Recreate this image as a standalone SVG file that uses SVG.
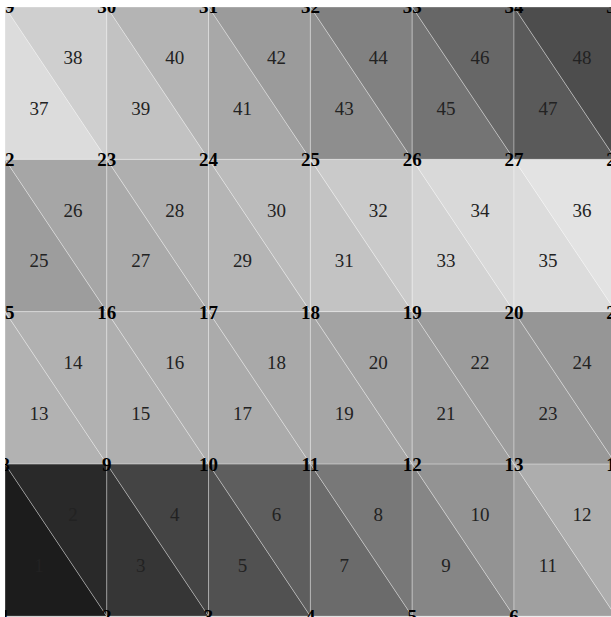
<svg xmlns="http://www.w3.org/2000/svg" width="611" height="617" viewBox="0 0 611 617">
<style>
.t{stroke:#ffffff;stroke-opacity:0.45;stroke-width:0.7;stroke-linejoin:round}
.el{font-family:"Liberation Serif","Times New Roman",serif;font-size:19px;fill:#222;text-anchor:middle}
.nd{font-family:"Liberation Serif","Times New Roman",serif;font-size:19px;font-weight:bold;fill:#000;text-anchor:middle}
</style>
<defs>
<clipPath id="area"><rect x="5" y="7" width="620" height="620"/></clipPath>
</defs>
<rect width="611" height="617" fill="#ffffff"/>
<g clip-path="url(#area)">
<g id="elements">
<g id="e1"><polygon class="t" fill="#1c1c1c" points="5,463.9 5,616.2 106.8,616.2"/><text class="el" x="38.9" y="571.9">1</text></g>
<g id="e2"><polygon class="t" fill="#292929" points="5,463.9 106.8,463.9 106.8,616.2"/><text class="el" x="72.9" y="521.2">2</text></g>
<g id="e3"><polygon class="t" fill="#363636" points="106.8,463.9 106.8,616.2 208.6,616.2"/><text class="el" x="140.7" y="571.9">3</text></g>
<g id="e4"><polygon class="t" fill="#444444" points="106.8,463.9 208.6,463.9 208.6,616.2"/><text class="el" x="174.7" y="521.2">4</text></g>
<g id="e5"><polygon class="t" fill="#515151" points="208.6,463.9 208.6,616.2 310.4,616.2"/><text class="el" x="242.5" y="571.9">5</text></g>
<g id="e6"><polygon class="t" fill="#5e5e5e" points="208.6,463.9 310.4,463.9 310.4,616.2"/><text class="el" x="276.5" y="521.2">6</text></g>
<g id="e7"><polygon class="t" fill="#6b6b6b" points="310.4,463.9 310.4,616.2 412.2,616.2"/><text class="el" x="344.3" y="571.9">7</text></g>
<g id="e8"><polygon class="t" fill="#787878" points="310.4,463.9 412.2,463.9 412.2,616.2"/><text class="el" x="378.3" y="521.2">8</text></g>
<g id="e9"><polygon class="t" fill="#868686" points="412.2,463.9 412.2,616.2 514,616.2"/><text class="el" x="446.1" y="571.9">9</text></g>
<g id="e10"><polygon class="t" fill="#939393" points="412.2,463.9 514,463.9 514,616.2"/><text class="el" x="480.1" y="521.2">10</text></g>
<g id="e11"><polygon class="t" fill="#a0a0a0" points="514,463.9 514,616.2 615.8,616.2"/><text class="el" x="547.9" y="571.9">11</text></g>
<g id="e12"><polygon class="t" fill="#adadad" points="514,463.9 615.8,463.9 615.8,616.2"/><text class="el" x="581.9" y="521.2">12</text></g>

<g id="e13"><polygon class="t" fill="#b2b2b2" points="5,311.6 5,463.9 106.8,463.9"/><text class="el" x="38.9" y="419.6">13</text></g>
<g id="e14"><polygon class="t" fill="#b1b1b1" points="5,311.6 106.8,311.6 106.8,463.9"/><text class="el" x="72.9" y="368.9">14</text></g>
<g id="e15"><polygon class="t" fill="#afafaf" points="106.8,311.6 106.8,463.9 208.6,463.9"/><text class="el" x="140.7" y="419.6">15</text></g>
<g id="e16"><polygon class="t" fill="#aeaeae" points="106.8,311.6 208.6,311.6 208.6,463.9"/><text class="el" x="174.7" y="368.9">16</text></g>
<g id="e17"><polygon class="t" fill="#ababab" points="208.6,311.6 208.6,463.9 310.4,463.9"/><text class="el" x="242.5" y="419.6">17</text></g>
<g id="e18"><polygon class="t" fill="#a9a9a9" points="208.6,311.6 310.4,311.6 310.4,463.9"/><text class="el" x="276.5" y="368.9">18</text></g>
<g id="e19"><polygon class="t" fill="#a6a6a6" points="310.4,311.6 310.4,463.9 412.2,463.9"/><text class="el" x="344.3" y="419.6">19</text></g>
<g id="e20"><polygon class="t" fill="#a3a3a3" points="310.4,311.6 412.2,311.6 412.2,463.9"/><text class="el" x="378.3" y="368.9">20</text></g>
<g id="e21"><polygon class="t" fill="#9f9f9f" points="412.2,311.6 412.2,463.9 514,463.9"/><text class="el" x="446.1" y="419.6">21</text></g>
<g id="e22"><polygon class="t" fill="#9c9c9c" points="412.2,311.6 514,311.6 514,463.9"/><text class="el" x="480.1" y="368.9">22</text></g>
<g id="e23"><polygon class="t" fill="#999999" points="514,311.6 514,463.9 615.8,463.9"/><text class="el" x="547.9" y="419.6">23</text></g>
<g id="e24"><polygon class="t" fill="#969696" points="514,311.6 615.8,311.6 615.8,463.9"/><text class="el" x="581.9" y="368.9">24</text></g>

<g id="e25"><polygon class="t" fill="#9d9d9d" points="5,159.3 5,311.6 106.8,311.6"/><text class="el" x="38.9" y="267.3">25</text></g>
<g id="e26"><polygon class="t" fill="#a6a6a6" points="5,159.3 106.8,159.3 106.8,311.6"/><text class="el" x="72.9" y="216.6">26</text></g>
<g id="e27"><polygon class="t" fill="#aaaaaa" points="106.8,159.3 106.8,311.6 208.6,311.6"/><text class="el" x="140.7" y="267.3">27</text></g>
<g id="e28"><polygon class="t" fill="#afafaf" points="106.8,159.3 208.6,159.3 208.6,311.6"/><text class="el" x="174.7" y="216.6">28</text></g>
<g id="e29"><polygon class="t" fill="#b5b5b5" points="208.6,159.3 208.6,311.6 310.4,311.6"/><text class="el" x="242.5" y="267.3">29</text></g>
<g id="e30"><polygon class="t" fill="#bbbbbb" points="208.6,159.3 310.4,159.3 310.4,311.6"/><text class="el" x="276.5" y="216.6">30</text></g>
<g id="e31"><polygon class="t" fill="#c3c3c3" points="310.4,159.3 310.4,311.6 412.2,311.6"/><text class="el" x="344.3" y="267.3">31</text></g>
<g id="e32"><polygon class="t" fill="#cacaca" points="310.4,159.3 412.2,159.3 412.2,311.6"/><text class="el" x="378.3" y="216.6">32</text></g>
<g id="e33"><polygon class="t" fill="#d3d3d3" points="412.2,159.3 412.2,311.6 514,311.6"/><text class="el" x="446.1" y="267.3">33</text></g>
<g id="e34"><polygon class="t" fill="#d9d9d9" points="412.2,159.3 514,159.3 514,311.6"/><text class="el" x="480.1" y="216.6">34</text></g>
<g id="e35"><polygon class="t" fill="#dcdcdc" points="514,159.3 514,311.6 615.8,311.6"/><text class="el" x="547.9" y="267.3">35</text></g>
<g id="e36"><polygon class="t" fill="#e3e3e3" points="514,159.3 615.8,159.3 615.8,311.6"/><text class="el" x="581.9" y="216.6">36</text></g>

<g id="e37"><polygon class="t" fill="#dcdcdc" points="5,7 5,159.3 106.8,159.3"/><text class="el" x="38.9" y="115">37</text></g>
<g id="e38"><polygon class="t" fill="#cfcfcf" points="5,7 106.8,7 106.8,159.3"/><text class="el" x="72.9" y="64.3">38</text></g>
<g id="e39"><polygon class="t" fill="#c2c2c2" points="106.8,7 106.8,159.3 208.6,159.3"/><text class="el" x="140.7" y="115">39</text></g>
<g id="e40"><polygon class="t" fill="#b4b4b4" points="106.8,7 208.6,7 208.6,159.3"/><text class="el" x="174.7" y="64.3">40</text></g>
<g id="e41"><polygon class="t" fill="#a8a8a8" points="208.6,7 208.6,159.3 310.4,159.3"/><text class="el" x="242.5" y="115">41</text></g>
<g id="e42"><polygon class="t" fill="#9b9b9b" points="208.6,7 310.4,7 310.4,159.3"/><text class="el" x="276.5" y="64.3">42</text></g>
<g id="e43"><polygon class="t" fill="#8e8e8e" points="310.4,7 310.4,159.3 412.2,159.3"/><text class="el" x="344.3" y="115">43</text></g>
<g id="e44"><polygon class="t" fill="#818181" points="310.4,7 412.2,7 412.2,159.3"/><text class="el" x="378.3" y="64.3">44</text></g>
<g id="e45"><polygon class="t" fill="#747474" points="412.2,7 412.2,159.3 514,159.3"/><text class="el" x="446.1" y="115">45</text></g>
<g id="e46"><polygon class="t" fill="#676767" points="412.2,7 514,7 514,159.3"/><text class="el" x="480.1" y="64.3">46</text></g>
<g id="e47"><polygon class="t" fill="#5a5a5a" points="514,7 514,159.3 615.8,159.3"/><text class="el" x="547.9" y="115">47</text></g>
<g id="e48"><polygon class="t" fill="#4d4d4d" points="514,7 615.8,7 615.8,159.3"/><text class="el" x="581.9" y="64.3">48</text></g>
</g>
<g id="connectors"></g>
<g id="nodes">
<g id="n1"><text class="nd" x="5" y="623.2">1</text></g>
<g id="n2"><text class="nd" x="106.8" y="623.2">2</text></g>
<g id="n3"><text class="nd" x="208.6" y="623.2">3</text></g>
<g id="n4"><text class="nd" x="310.4" y="623.2">4</text></g>
<g id="n5"><text class="nd" x="412.2" y="623.2">5</text></g>
<g id="n6"><text class="nd" x="514" y="623.2">6</text></g>
<g id="n7"><text class="nd" x="615.8" y="623.2">7</text></g>
<g id="n8"><text class="nd" x="5" y="470.9">8</text></g>
<g id="n9"><text class="nd" x="106.8" y="470.9">9</text></g>
<g id="n10"><text class="nd" x="208.6" y="470.9">10</text></g>
<g id="n11"><text class="nd" x="310.4" y="470.9">11</text></g>
<g id="n12"><text class="nd" x="412.2" y="470.9">12</text></g>
<g id="n13"><text class="nd" x="514" y="470.9">13</text></g>
<g id="n14"><text class="nd" x="615.8" y="470.9">14</text></g>
<g id="n15"><text class="nd" x="5" y="318.6">15</text></g>
<g id="n16"><text class="nd" x="106.8" y="318.6">16</text></g>
<g id="n17"><text class="nd" x="208.6" y="318.6">17</text></g>
<g id="n18"><text class="nd" x="310.4" y="318.6">18</text></g>
<g id="n19"><text class="nd" x="412.2" y="318.6">19</text></g>
<g id="n20"><text class="nd" x="514" y="318.6">20</text></g>
<g id="n21"><text class="nd" x="615.8" y="318.6">21</text></g>
<g id="n22"><text class="nd" x="5" y="166.3">22</text></g>
<g id="n23"><text class="nd" x="106.8" y="166.3">23</text></g>
<g id="n24"><text class="nd" x="208.6" y="166.3">24</text></g>
<g id="n25"><text class="nd" x="310.4" y="166.3">25</text></g>
<g id="n26"><text class="nd" x="412.2" y="166.3">26</text></g>
<g id="n27"><text class="nd" x="514" y="166.3">27</text></g>
<g id="n28"><text class="nd" x="615.8" y="166.3">28</text></g>
<g id="n29"><text class="nd" x="5" y="13">29</text></g>
<g id="n30"><text class="nd" x="106.8" y="13">30</text></g>
<g id="n31"><text class="nd" x="208.6" y="13">31</text></g>
<g id="n32"><text class="nd" x="310.4" y="13">32</text></g>
<g id="n33"><text class="nd" x="412.2" y="13">33</text></g>
<g id="n34"><text class="nd" x="514" y="13">34</text></g>
<g id="n35"><text class="nd" x="615.8" y="13">35</text></g>
</g>
</g>
</svg>
